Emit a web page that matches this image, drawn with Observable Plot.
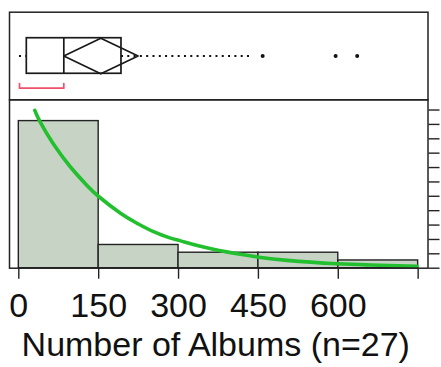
<!DOCTYPE html>
<html>
<head>
<meta charset="utf-8">
<script src="https://cdn.jsdelivr.net/npm/d3@7"></script>
<script src="https://cdn.jsdelivr.net/npm/@observablehq/plot@0.6"></script>
<style>
  body { margin: 0; background: #fff; }
  #chart { position: relative; width: 441px; height: 367px; }
  #chart svg { position: absolute; left: 0; top: 0; background: transparent; }
</style>
</head>
<body>
<div id="chart"></div>
<script>
// Histogram of albums per artist (bin edges and counts)
const binStart = [0, 150, 300, 450, 600];
const binEnd = [150, 300, 450, 600, 750];
const binCount = [19, 3, 2, 2, 1];

// Fitted exponential density, on the count scale
const fitX = [30, 40, 65, 97, 128, 150, 191, 222, 253, 285, 304, 347, 410, 450, 504, 598, 660, 748];
const fitY = [20.38, 18.89, 16.03, 13.07, 10.69, 9.26, 7.09, 5.8, 4.72, 3.88, 3.53, 2.74, 1.86, 1.43, 1.01, 0.57, 0.42, 0.26];

// Outlier box plot summary
const whiskerLow = 1.3;
const quartile1 = 15;
const median = 84.5;
const quartile3 = 192.8;
const whiskerHigh = 435;
const outliers = [458, 595, 635.5];
const mean = 154;
const meanCI = [84.5, 224];
const shortestHalf = [1.3, 84.5];

// Axis ticks
const xTicks = [0, 150, 300, 450, 600, 750];
const xTickLabels = ["0", "150", "300", "450", "600", ""];
const countTicks = [0, 1.86, 3.71, 5.57, 7.43, 9.29, 11.14, 13.0, 14.86, 16.71, 18.57, 20.43];
const xLabel = "Number of Albums (n=27)";

const W = 441, H = 367;
const left = 9, right = 13.5;
const xDomain = [-17.5, 768.5];
const ink = "#232323";
const font = "'Liberation Sans', Arial, Helvetica, sans-serif";
const tickText = new Map(xTicks.map((t, i) => [t, xTickLabels[i]]));

const bins = binStart.map((s, i) => ({x1: s, x2: binEnd[i], count: binCount[i]}));
const fit = fitX.map((x, i) => ({x, y: fitY[i]}));

// Lower panel: histogram with density curve
const hist = Plot.plot({
  width: W, height: H,
  marginLeft: left, marginRight: right, marginTop: 99.3, marginBottom: H - 267.7,
  style: {fontFamily: font, color: "#111", background: "transparent"},
  x: {domain: xDomain, axis: null},
  y: {domain: [0, 21.75], axis: null},
  marks: [
    Plot.rectY(bins, {x1: "x1", x2: "x2", y1: 0, y2: "count", fill: "#c6d3c5", stroke: ink, strokeWidth: 1.4}),
    Plot.line(fit, {x: "x", y: "y", stroke: "#22bf2e", strokeWidth: 3.6, curve: "natural", clip: true}),
    Plot.frame({stroke: ink, strokeWidth: 1.5}),
    Plot.axisY(countTicks, {anchor: "right", tickSize: 11, tickFormat: () => "", label: null, stroke: ink, strokeWidth: 1.4}),
    Plot.axisX(xTicks, {tickSize: 11, tickPadding: 14, fontSize: 34, tickFormat: d => tickText.get(d), label: null, stroke: ink, strokeWidth: 1.4}),
    Plot.text([xLabel], {frameAnchor: "bottom", dx: -3, dy: 87.3, lineAnchor: "bottom", fontSize: 34, fill: "#111"})
  ]
});

// Upper panel: outlier box plot with mean diamond and shortest-half bracket
const boxHalf = 0.406, bracketY = -0.735, bracketTip = -0.63;
const diamond = [[meanCI[0], 0], [mean, boxHalf], [meanCI[1], 0], [mean, -boxHalf], [meanCI[0], 0]];
const bracket = [[shortestHalf[0], bracketTip], [shortestHalf[0], bracketY], [shortestHalf[1], bracketY], [shortestHalf[1], bracketTip]];
const dotted = {stroke: "#111", strokeWidth: 2.1, strokeDasharray: "2 4.3"};

const box = Plot.plot({
  width: W, height: H,
  marginLeft: left, marginRight: right, marginTop: 11.7, marginBottom: H - 99.3,
  style: {fontFamily: font, background: "transparent"},
  x: {domain: xDomain, axis: null},
  y: {domain: [-1, 1], axis: null},
  marks: [
    Plot.frame({stroke: ink, strokeWidth: 1.5}),
    Plot.ruleY([0], {x1: whiskerLow, x2: quartile1, ...dotted}),
    Plot.ruleY([0], {x1: quartile3, x2: whiskerHigh, ...dotted}),
    Plot.rect([0], {x1: quartile1, x2: quartile3, y1: -boxHalf, y2: boxHalf, fill: "none", stroke: "#1a1a1a", strokeWidth: 1.7}),
    Plot.ruleX([median], {y1: -boxHalf, y2: boxHalf, stroke: "#1a1a1a", strokeWidth: 1.7}),
    Plot.line(diamond, {x: d => d[0], y: d => d[1], stroke: "#1a1a1a", strokeWidth: 1.7}),
    Plot.dot(outliers, {x: d => d, y: 0, r: 2, fill: "#111", stroke: null}),
    Plot.line(bracket, {x: d => d[0], y: d => d[1], stroke: "#f0506a", strokeWidth: 1.7})
  ]
});

const chart = document.getElementById("chart");
chart.appendChild(hist);
chart.appendChild(box);
</script>
</body>
</html>
